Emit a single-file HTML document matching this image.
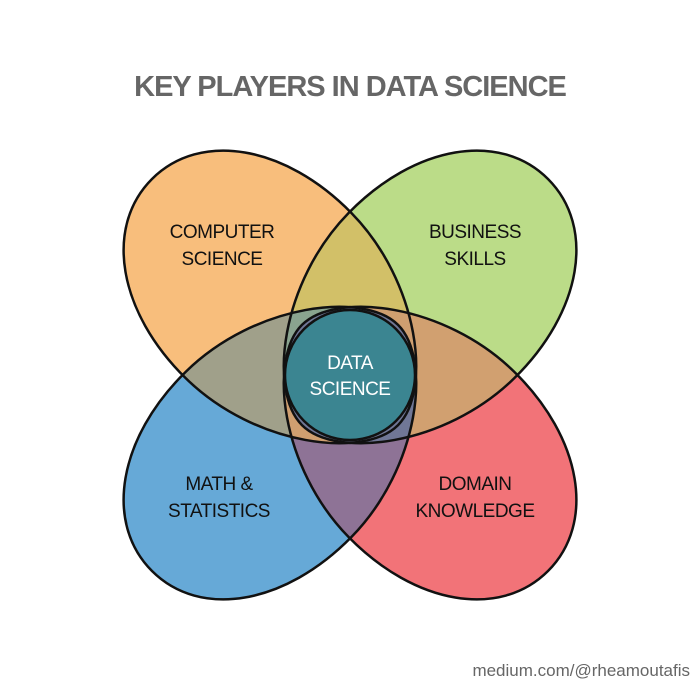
<!DOCTYPE html>
<html><head><meta charset="utf-8"><style>
body{margin:0;background:#fff;width:700px;height:700px;overflow:hidden}
svg{display:block}
</style></head><body>
<svg width="700" height="700" viewBox="0 0 700 700" xmlns="http://www.w3.org/2000/svg">
<defs>
<path id="P" d="M0,0 C0,-68 70,-118 165,-117 C262,-116 348,-48 348,0 C348,48 262,116 165,117 C70,118 0,68 0,0Z"/>
<use id="O" href="#P" transform="translate(152,179) rotate(45)"/>
<use id="G" href="#P" transform="translate(548,179) rotate(135)"/>
<use id="B" href="#P" transform="translate(152,571) rotate(-45)"/>
<use id="R" href="#P" transform="translate(548,571) rotate(-135)"/>
<clipPath id="cO"><use href="#P" transform="translate(152,179) rotate(45)"/></clipPath>
<clipPath id="cG"><use href="#P" transform="translate(548,179) rotate(135)"/></clipPath>
<clipPath id="cB"><use href="#P" transform="translate(152,571) rotate(-45)"/></clipPath>
<clipPath id="cR"><use href="#P" transform="translate(548,571) rotate(-135)"/></clipPath>
</defs>
<rect width="700" height="700" fill="#fff"/>
<text x="350" y="96" text-anchor="middle" font-family="Liberation Sans, sans-serif" font-weight="bold" font-size="29" fill="#666" letter-spacing="-1">KEY PLAYERS IN DATA SCIENCE</text>
<use href="#O" fill="#f8be7c"/>
<use href="#G" fill="#bbdc88"/>
<use href="#B" fill="#66a9d7"/>
<use href="#R" fill="#f27378"/>
<g clip-path="url(#cG)"><use href="#O" fill="#d2c068"/></g>
<g clip-path="url(#cB)"><use href="#O" fill="#a0a08a"/></g>
<g clip-path="url(#cR)"><use href="#G" fill="#d1a070"/></g>
<g clip-path="url(#cR)"><use href="#B" fill="#8e7396"/></g>
<g clip-path="url(#cR)"><use href="#O" fill="#cf9f70"/></g>
<g clip-path="url(#cG)"><use href="#B" fill="#7c8794"/></g>
<g clip-path="url(#cO)"><g clip-path="url(#cB)"><use href="#G" fill="#8aa48f"/></g></g>
<g clip-path="url(#cR)"><g clip-path="url(#cB)"><use href="#G" fill="#707796"/></g></g>
<circle cx="350" cy="375" r="65" fill="#3b8591"/>
<g fill="none" stroke="#111" stroke-width="2.5">
<use href="#O"/><use href="#G"/><use href="#B"/><use href="#R"/>
<circle cx="350" cy="375" r="65"/>
</g>
<g font-family="Liberation Sans, sans-serif" font-size="19" text-anchor="middle" fill="#111" letter-spacing="-0.5">
<text x="222" y="238">COMPUTER</text><text x="222" y="265">SCIENCE</text>
<text x="475" y="238">BUSINESS</text><text x="475" y="265">SKILLS</text>
<text x="219" y="490">MATH &amp;</text><text x="219" y="517">STATISTICS</text>
<text x="475" y="490">DOMAIN</text><text x="475" y="517">KNOWLEDGE</text>
<text x="350" y="369" fill="#fff">DATA</text><text x="350" y="395" fill="#fff">SCIENCE</text>
</g>
<text x="690" y="676" text-anchor="end" font-family="Liberation Sans, sans-serif" font-size="17" fill="#666">medium.com/@rheamoutafis</text>
</svg>
</body></html>
